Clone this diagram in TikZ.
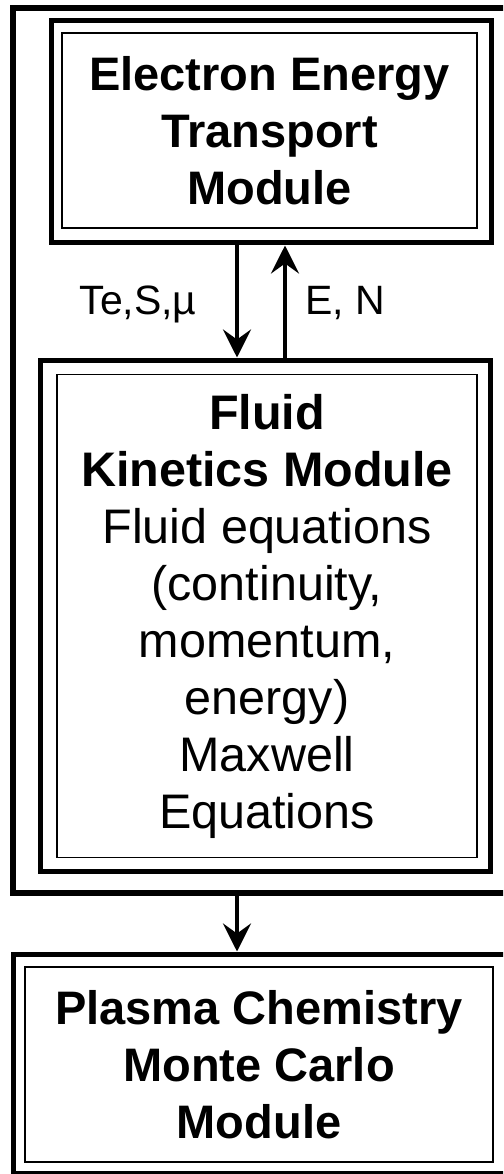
\documentclass[tikz,border=0pt]{standalone}
\usepackage{fontspec}
\setmainfont{Liberation Sans}
\usetikzlibrary{arrows.meta}
\begin{document}
\begin{tikzpicture}[x=1pt,y=-1pt,
  framebox/.style={draw,line width=6pt,inner sep=0pt,minimum width=507pt},
  outerbox/.style={draw,line width=5pt,inner sep=0pt},
  innerbox/.style={draw,line width=1.8pt,inner sep=0pt,align=center,font=\fontsize{47}{57}\selectfont},
  lbl/.style={inner sep=0pt,anchor=base,font=\fontsize{41}{49}\selectfont},
  flow/.style={line width=4pt,-{Stealth[length=28pt,width=28pt,inset=10pt]}}]
\useasboundingbox (0,0) rectangle (503,1174);
\clip (0,0) rectangle (503,1174);
\fill[white] (0,0) rectangle (503,1174);
% outer frame
\node[framebox,minimum height=885pt] (frame) at (266.5,450.5) {};
% electron energy transport module
\node[outerbox,minimum width=440pt,minimum height=222pt] (ee) at (271,132) {};
\node[innerbox,minimum width=415pt,minimum height=195pt] (eei) at (269.5,130.5)
  {\bfseries Electron Energy\\\bfseries Transport\\\bfseries Module};
% fluid kinetics module
\node[outerbox,minimum width=450pt,minimum height=511pt] (fk) at (265,615.5) {};
\node[innerbox,minimum width=420pt,minimum height=483pt,font=\fontsize{48.5}{57}\selectfont] (fki) at (267,616)
  {\bfseries Fluid\\\bfseries Kinetics Module\\Fluid equations\\(continuity,\\momentum,\\energy)\\Maxwell\\Equations};
% plasma chemistry monte carlo module
\node[outerbox,minimum width=507pt,minimum height=219pt] (pc) at (266.5,1063.5) {};
\node[innerbox,minimum width=468pt,minimum height=195pt] (pci) at (259,1064.5)
  {\bfseries Plasma Chemistry\\\bfseries Monte Carlo\\\bfseries Module};
% connectors
\draw[flow] ([xshift=-34pt]ee.south) -- ([xshift=-28pt]fk.north);
\draw[flow] ([xshift=20pt]fk.north) -- ([xshift=14pt]ee.south);
\draw[flow] ([xshift=-29.5pt]frame.south) -- ([xshift=-29.5pt]pc.north);
% labels
\node[lbl] (l1) at (138,314) {Te,S,µ};
\node[lbl] (l2) at (345,314) {E, N};
\end{tikzpicture}
\end{document}
